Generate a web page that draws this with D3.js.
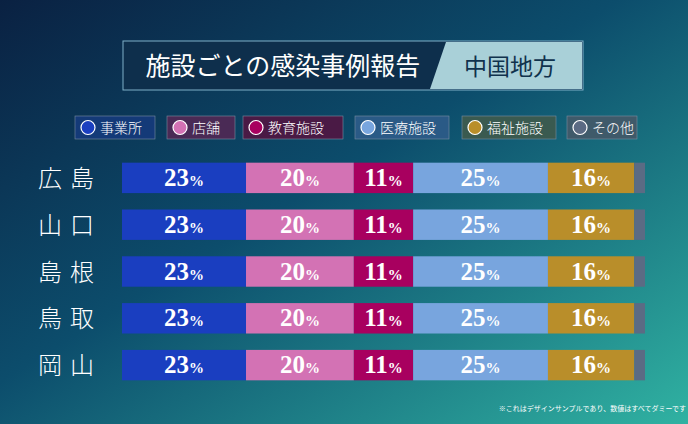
<!DOCTYPE html><html><head><meta charset="utf-8"><script src="https://cdn.jsdelivr.net/npm/d3@7"></script>
<style>body{margin:0}svg{display:block}text{font-family:"Noto Sans CJK JP",sans-serif}</style></head><body><svg width="688" height="424"></svg>
<script>
const regions=["広島","山口","島根","鳥取","岡山"];
const categories=["事業所","店舗","教育施設","医療施設","福祉施設","その他"];
const colors=["#1a3ec0","#d372b4","#a8005f","#78a5de","#b98e2a","#5b6b84"];
const values=[[23,20,11,25,16,2],[23,20,11,25,16,2],[23,20,11,25,16,2],[23,20,11,25,16,2],[23,20,11,25,16,2]];
const svg=d3.select("svg");
const defs=svg.append("defs");
const g=defs.append("linearGradient").attr("id","bg").attr("x1","0").attr("y1","0").attr("x2","1").attr("y2","1");
g.append("stop").attr("offset","0").attr("stop-color","#0a2142");
g.append("stop").attr("offset","0.45").attr("stop-color","#0c4d6c");
g.append("stop").attr("offset","1").attr("stop-color","#30b2a2");
svg.append("rect").attr("width",688).attr("height",424).attr("fill","url(#bg)");
svg.append("rect").attr("x",123).attr("y",41).attr("width",460).attr("height",49).attr("fill","#0e2f4c").attr("stroke","#7fb0c8").attr("stroke-width",1);
svg.append("path").attr("d","M446,42 L582,42 L582,89 L430,89 Z").attr("fill","#a9d0d8");
svg.append("text").attr("x",283).attr("y",75).attr("text-anchor","middle").attr("fill","#fff").attr("font-size",25).attr("font-weight",400).text("施設ごとの感染事例報告");
svg.append("text").attr("x",510).attr("y",75).attr("text-anchor","middle").attr("fill","#10324d").attr("font-size",23).attr("font-weight",400).text("中国地方");
const lx=[75,167,243,355,462,567], lw=[80,68,100,94,94,70];
const bgs=["#143a78","#4a2a55","#4a1a45","#2a5a86","#3a5a50","#3f5a6a"];
categories.forEach((c,i)=>{
 const lg=svg.append("g").attr("transform",`translate(${lx[i]},116)`);
 lg.append("rect").attr("width",lw[i]).attr("height",23).attr("fill",bgs[i]).attr("stroke","#7a8da0").attr("stroke-width",0.6);
 lg.append("circle").attr("cx",13).attr("cy",11.5).attr("r",7).attr("fill",colors[i]).attr("stroke","#fff").attr("stroke-width",1.2);
 lg.append("text").attr("x",25).attr("y",17).attr("fill","#fff").attr("font-size",14).attr("font-weight",300).text(c);
});
const x=d3.scaleLinear().domain([0,97]).range([122,645]);
const y=d3.scaleBand().domain(regions).range([158,385]).paddingInner(0.35).paddingOuter(0.1);
regions.forEach((r,ri)=>{
 const row=svg.append("g");
 let acc=0;
 values[ri].forEach((v,i)=>{
  const x0=x(acc),x1=x(acc+v);acc+=v;
  row.append("rect").attr("x",x0).attr("y",y(r)).attr("width",x1-x0).attr("height",y.bandwidth()).attr("fill",colors[i]);
  if(i<5){const t=row.append("text").attr("x",(x0+x1)/2).attr("y",y(r)+y.bandwidth()/2+8).attr("text-anchor","middle").attr("fill","#fff").style("font-family","'Liberation Serif',serif").attr("font-weight","bold");
   t.append("tspan").attr("font-size",25).text(v);t.append("tspan").attr("font-size",15).text("%");}
 });
 svg.append("text").attr("x",70).attr("y",y(r)+y.bandwidth()/2+9).attr("text-anchor","middle").attr("fill","#fff").attr("font-size",24).attr("font-weight",300).attr("letter-spacing",8).text(r);
});
svg.append("text").attr("x",686).attr("y",411).attr("text-anchor","end").attr("fill","#fff").attr("font-size",7).text("※これはデザインサンプルであり、数値はすべてダミーです");
</script></body></html>
